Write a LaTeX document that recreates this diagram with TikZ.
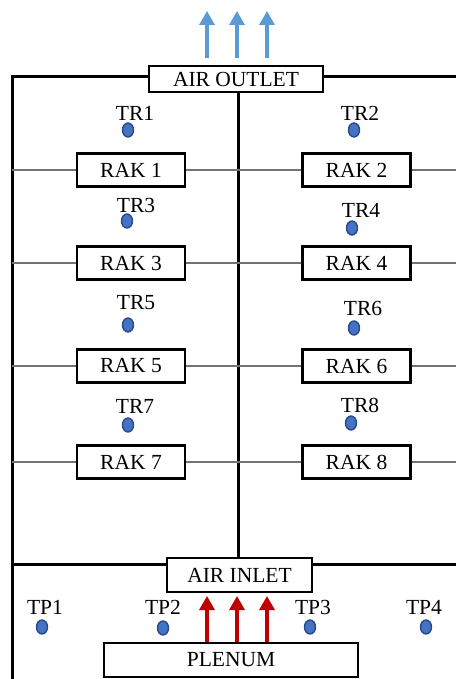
\documentclass[tikz,border=0pt]{standalone}
\usepackage{fontspec}
\setmainfont{Liberation Serif}
\usetikzlibrary{arrows.meta,shapes.geometric,backgrounds}
\definecolor{dotfill}{HTML}{4472C4}
\definecolor{dotline}{HTML}{2B4A8A}
\definecolor{outarrow}{HTML}{5B9BD5}
\definecolor{inarrow}{HTML}{C00000}
\begin{document}
\begin{tikzpicture}[x=1pt,y=-1pt,
  box/.style={draw=black,line width=2.3pt,fill=white,rectangle,inner sep=0pt,font=\fontsize{21.5}{24}\selectfont},
  rakbox/.style={box,minimum width=108pt,minimum height=33pt},
  wall/.style={line width=3pt,black},
  shelf/.style={line width=1.3pt,black!55},
  sensor/.style={ellipse,draw=dotline,fill=dotfill,line width=1.4pt,minimum width=11pt,minimum height=14pt,inner sep=0pt},
  lbl/.style={inner sep=0pt,font=\fontsize{21.5}{24}\selectfont},
  outarr/.style={line width=3.2pt,outarrow,-{Triangle[width=15pt,length=14pt]}},
  inarr/.style={line width=3.2pt,inarrow,-{Triangle[width=15pt,length=14pt]}}
]
\useasboundingbox (0,0) rectangle (456,679);

% boxes
\node[box,minimum width=174pt,minimum height=26pt] (outlet) at (236,79) {AIR OUTLET};
\node[box,minimum width=145pt,minimum height=34pt] (inlet) at (239.5,575) {AIR INLET};
\node[box,minimum width=254pt,minimum height=34pt] (plenum) at (231,660) {PLENUM};

\node[rakbox] (rak1) at (131,170) {RAK 1};
\node[rakbox] (rak2) at (356.5,170) {RAK 2};
\node[rakbox] (rak3) at (131,263) {RAK 3};
\node[rakbox] (rak4) at (356.5,263) {RAK 4};
\node[rakbox] (rak5) at (131,366) {RAK 5};
\node[rakbox] (rak6) at (356.5,366) {RAK 6};
\node[rakbox] (rak7) at (131,462) {RAK 7};
\node[rakbox] (rak8) at (356.5,462) {RAK 8};

% coordinates of walls
\coordinate (tl) at (12,77);
\coordinate (tr) at (456,77);
\coordinate (bl) at (12,679);
\coordinate (ml) at (12,564);
\coordinate (mr) at (456,564);
\coordinate (ctop) at (238,92);
\coordinate (cbot) at (238,564);

\begin{scope}[on background layer]
  \draw[wall] (outlet.west |- tl) -- (tl) -- (bl);
  \draw[wall] (outlet.east |- tr) -- (tr);
  \draw[wall] (ctop) -- (cbot);
  \draw[wall] (ml) -- (inlet.west |- ml);
  \draw[wall] (inlet.east |- mr) -- (mr);
  \foreach \a/\b in {rak1/rak2,rak3/rak4,rak5/rak6,rak7/rak8}{
    \draw[shelf] (\a.west -| tl) -- (\a.west);
    \draw[shelf] (\a.east) -- (\b.west);
    \draw[shelf] (\b.east) -- (\b.east -| tr);
  }
\end{scope}

% sensors
\node[sensor] (tr1) at (128,130) {};
\node[lbl] at (135,113) {TR1};
\node[sensor] (tr2) at (354,130) {};
\node[lbl] at (360,113) {TR2};
\node[sensor] (tr3) at (127,221) {};
\node[lbl] at (136,205) {TR3};
\node[sensor] (tr4) at (352,228) {};
\node[lbl] at (361,210) {TR4};
\node[sensor] (tr5) at (128,325) {};
\node[lbl] at (136,303) {TR5};
\node[sensor] (tr6) at (354,328) {};
\node[lbl] at (363,308) {TR6};
\node[sensor] (tr7) at (128,425) {};
\node[lbl] at (135,406) {TR7};
\node[sensor] (tr8) at (351,423) {};
\node[lbl] at (360,405) {TR8};

\node[sensor] (tp1) at (42,627) {};
\node[lbl] at (45,607) {TP1};
\node[sensor] (tp2) at (163,628) {};
\node[lbl] at (163,607) {TP2};
\node[sensor] (tp3) at (310,627) {};
\node[lbl] at (313,607) {TP3};
\node[sensor] (tp4) at (426,627) {};
\node[lbl] at (424,607) {TP4};

% outlet arrows
\foreach \x [count=\i] in {207,237,267}{
  \coordinate (os\i) at (\x,58);
  \coordinate (oe\i) at (\x,11);
  \draw[outarr] (os\i) -- (oe\i);
  \coordinate (ie\i) at (\x,596);
  \draw[inarr] (plenum.north -| ie\i) -- (ie\i);
}
\end{tikzpicture}
\end{document}
